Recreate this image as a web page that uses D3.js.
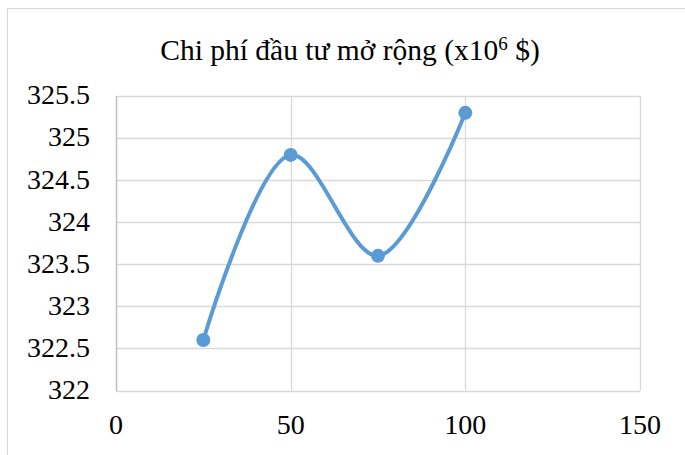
<!DOCTYPE html>
<html><head><meta charset="utf-8">
<script src="https://cdn.jsdelivr.net/npm/d3@7"></script>
<style>html,body{margin:0;padding:0;background:#fff;}
svg text{font-family:"Liberation Serif","Times New Roman","Tinos","DejaVu Serif",serif;}</style>
</head><body>
<script>
const xValues = [25, 50, 75, 100];
const yValues = [322.6, 324.8, 323.6, 325.3];
const xTicks = [0, 50, 100, 150];
const yTicks = [322, 322.5, 323, 323.5, 324, 324.5, 325, 325.5];
const titleText = "Chi phí đầu tư mở rộng (x10";

const W = 685, H = 455;
const svg = d3.select("body").append("svg").attr("width", W).attr("height", H);
svg.append("rect").attr("x", 7.5).attr("y", 8.5).attr("width", 700).attr("height", 460)
  .attr("fill", "#fff").attr("stroke", "#d9d9d9").attr("stroke-width", 1);

const L = 116, R = 640, T = 96, B = 390.5;
const x = d3.scaleLinear().domain([0, 150]).range([L, R]);
const y = d3.scaleLinear().domain([322, 325.5]).range([B, T]);

// gridlines
const g = svg.append("g");
g.selectAll(".hg").data(yTicks).join("line")
  .attr("x1", L).attr("x2", R).attr("y1", d => Math.round(y(d)) + 0.5).attr("y2", d => Math.round(y(d)) + 0.5)
  .attr("stroke", "#d9d9d9").attr("stroke-width", 1.3);
g.selectAll(".vg").data(xTicks.slice(1)).join("line")
  .attr("y1", T).attr("y2", B).attr("x1", d => Math.round(x(d)) + 0.5).attr("x2", d => Math.round(x(d)) + 0.5)
  .attr("stroke", "#d9d9d9").attr("stroke-width", 1.3);
g.append("line").attr("x1", L + 0.5).attr("x2", L + 0.5).attr("y1", T).attr("y2", B + 0.5)
  .attr("stroke", "#bfbfbf").attr("stroke-width", 1.5);

// y labels
svg.selectAll(".yl").data(yTicks).join("text")
  .attr("x", 90).attr("y", d => y(d)).attr("dy", "0.3em")
  .attr("text-anchor", "end").attr("font-size", 28).attr("fill", "#000")
  .text(d => d);
// x labels
svg.selectAll(".xl").data(xTicks).join("text")
  .attr("x", d => x(d)).attr("y", 434)
  .attr("text-anchor", "middle").attr("font-size", 28).attr("fill", "#000")
  .text(d => d);

// title
const t = svg.append("text").attr("x", 350).attr("y", 60).attr("text-anchor", "middle")
  .attr("font-size", 29.5).attr("fill", "#000");
t.append("tspan").text(titleText);
t.append("tspan").attr("font-size", 19).attr("dy", -10).text("6");
t.append("tspan").attr("dy", 10).text(" $)");

// line
const pts = xValues.map((v, i) => [v, yValues[i]]);
const line = d3.line().x(d => x(d[0])).y(d => y(d[1])).curve(d3.curveCatmullRom.alpha(0.5));
svg.append("path").attr("d", line(pts)).attr("fill", "none")
  .attr("stroke", "#5b9bd5").attr("stroke-width", 4).attr("stroke-linecap", "round");
svg.selectAll(".pt").data(pts).join("circle")
  .attr("cx", d => x(d[0])).attr("cy", d => y(d[1])).attr("r", 7).attr("fill", "#5b9bd5");
</script>
</body></html>
